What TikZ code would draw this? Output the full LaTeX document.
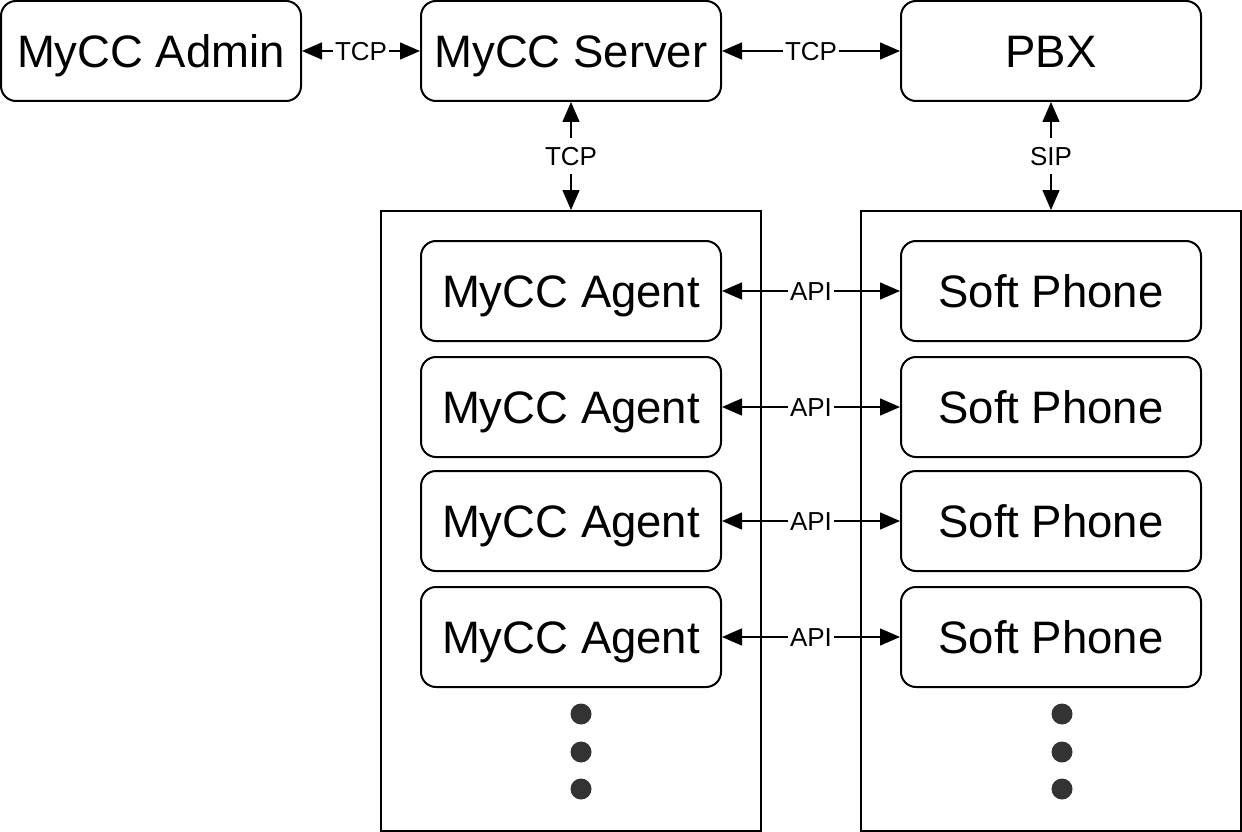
\documentclass[tikz,border=0pt]{standalone}
\usepackage{fontspec}
\setmainfont{Liberation Sans}
\usetikzlibrary{arrows.meta,positioning}

\begin{document}
\begin{tikzpicture}[x=1pt, y=-1pt, >={Triangle[length=20pt,width=17pt]},
    box/.style={draw, line width=2pt, rounded corners=15pt, minimum width=300pt,
      minimum height=100pt, inner sep=0pt, text height=33pt, text depth=0pt,
      font=\fontsize{45.5}{54}\selectfont},
    group/.style={draw, line width=2pt, minimum width=380pt, minimum height=620pt},
    link/.style={<->, line width=1.5pt},
    tag/.style={fill=white, inner xsep=2pt, inner ysep=8pt, text height=19pt, text depth=0pt,
      font=\fontsize{26}{30}\selectfont},
    dot/.style={circle, fill=black!80, minimum size=21pt, inner sep=0pt}]
    \useasboundingbox (0,0) rectangle (1242,832);
    % top row
    \node[box] (admin) at (151,51) {MyCC Admin};
    \node[box] (server) at (571,51) {MyCC Server};
    \node[box] (pbx) at (1051,51) {PBX};
    % the two containers
    \node[group] (agents) at (571,521) {};
    \node[group] (phones) at (1051,521) {};
    \draw[link] (admin) -- node[tag] {TCP} (server);
    \draw[link] (server) -- node[tag] {TCP} (pbx);
    \draw[link] (server) -- node[tag] {TCP} (agents);
    \draw[link] (pbx) -- node[tag] {SIP} (phones);
    % agents and phones
    \foreach \i/\y in {1/291,2/407,3/521,4/637} {
      \node[box] (agent\i) at (571,\y) {MyCC Agent};
      \node[box] (phone\i) at (1051,\y) {Soft Phone};
      \draw[link] (agent\i) -- node[tag] {API} (phone\i);
    }
    \foreach \y [count=\k] in {714,752,789} {
      \node[dot] (ldot\k) at (581,\y) {};
      \node[dot] (rdot\k) at (1062,\y) {};
    }
\end{tikzpicture}
\end{document}
